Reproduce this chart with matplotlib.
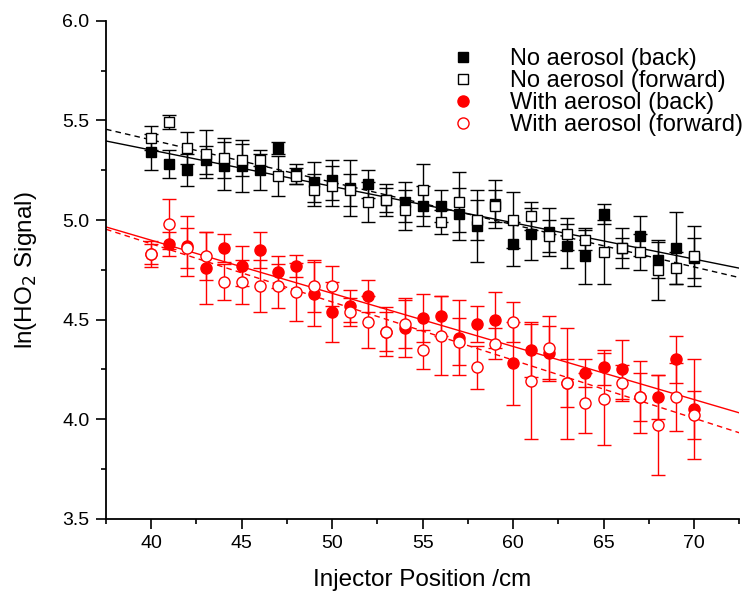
import numpy as np
import matplotlib
matplotlib.use("Agg")
import matplotlib.pyplot as plt
from matplotlib.ticker import MultipleLocator

plt.rcParams['font.family'] = ['Liberation Sans', 'DejaVu Sans']

position = np.arange(40, 71)

# No aerosol, back
noaer_back = [5.34, 5.28, 5.25, 5.30, 5.27, 5.27, 5.25, 5.36, 5.23, 5.19, 5.20,
              5.16, 5.18, 5.10, 5.09, 5.07, 5.07, 5.03, 4.97, 5.08, 4.88,
              4.93, 4.94, 4.87, 4.82, 5.03, 4.86, 4.92, 4.80, 4.86, 4.81]
noaer_back_err = [0.09, 0.07, 0.08, 0.07, 0.12, 0.13, 0.10, 0.03, 0.05, 0.10, 0.10,
                  0.14, 0.07, 0.06, 0.10, 0.10, 0.08, 0.13, 0.18, 0.12, 0.11,
                  0.13, 0.12, 0.11, 0.14, 0.05, 0.10, 0.10, 0.09, 0.18, 0.10]

# No aerosol, forward
noaer_fwd = [5.41, 5.49, 5.36, 5.33, 5.31, 5.30, 5.30, 5.22, 5.22, 5.15, 5.17,
             5.15, 5.09, 5.10, 5.05, 5.15, 4.99, 5.09, 5.00, 5.07, 5.00,
             5.02, 4.92, 4.93, 4.90, 4.84, 4.86, 4.84, 4.75, 4.76, 4.82]
noaer_fwd_err = [0.06, 0.035, 0.08, 0.12, 0.10, 0.08, 0.03, 0.10, 0.04, 0.08, 0.10,
                 0.08, 0.10, 0.08, 0.10, 0.13, 0.06, 0.15, 0.10, 0.08, 0.14,
                 0.07, 0.08, 0.08, 0.05, 0.16, 0.05, 0.09, 0.15, 0.08, 0.15]

# With aerosol, back
aer_back = [4.83, 4.88, 4.87, 4.76, 4.86, 4.77, 4.85, 4.74, 4.77, 4.63, 4.54,
            4.57, 4.62, 4.44, 4.46, 4.51, 4.52, 4.41, 4.48, 4.50, 4.28,
            4.35, 4.33, 4.18, 4.23, 4.26, 4.25, 4.11, 4.11, 4.30, 4.05]
aer_back_err = [0.065, 0.06, 0.15, 0.18, 0.07, 0.10, 0.09, 0.08, 0.055, 0.16, 0.15,
                0.08, 0.08, 0.125, 0.15, 0.12, 0.10, 0.19, 0.09, 0.14, 0.21,
                0.14, 0.14, 0.28, 0.07, 0.09, 0.15, 0.18, 0.11, 0.12, 0.25]

# With aerosol, forward
aer_fwd = [4.83, 4.98, 4.86, 4.82, 4.69, 4.69, 4.67, 4.67, 4.64, 4.67, 4.67,
           4.54, 4.49, 4.44, 4.48, 4.35, 4.42, 4.39, 4.26, 4.38, 4.49,
           4.19, 4.36, 4.18, 4.08, 4.10, 4.18, 4.11, 3.97, 4.11, 4.02]
aer_fwd_err = [0.05, 0.125, 0.10, 0.12, 0.09, 0.11, 0.13, 0.11, 0.145, 0.13, 0.10,
               0.07, 0.13, 0.10, 0.12, 0.10, 0.20, 0.12, 0.11, 0.08, 0.10,
               0.29, 0.16, 0.12, 0.15, 0.23, 0.09, 0.12, 0.25, 0.17, 0.12]

fig = plt.figure(figsize=(7.52, 5.97), dpi=100)
ax = fig.add_axes([0.141, 0.131, 0.842, 0.834])

xlim = (37.5, 72.5)
xfit = np.array(xlim)

series = [
    (noaer_back, noaer_back_err, 's', 'black', 'black', '-', 'No aerosol (back)', 6.5),
    (noaer_fwd, noaer_fwd_err, 's', 'white', 'black', '--', 'No aerosol (forward)', 6.5),
    (aer_back, aer_back_err, 'o', 'red', 'red', '-', 'With aerosol (back)', 8),
    (aer_fwd, aer_fwd_err, 'o', 'white', 'red', '--', 'With aerosol (forward)', 8),
]

for y, err, marker, face, edge, ls, label, ms in series:
    ax.errorbar(position, y, yerr=err, fmt=marker, mfc=face, mec=edge, ms=ms,
                mew=1.0, ecolor=edge, elinewidth=1.0, capsize=5, capthick=1.0,
                label=label, zorder=3)
    # linear fit drawn across the whole x range
    slope, icept = np.polyfit(position, y, 1)
    ax.plot(xfit, slope * xfit + icept, color=edge, ls=ls, lw=1.0,
            dashes=(4, 3) if ls == '--' else (None, None), zorder=2)

ax.set_xlim(*xlim)
ax.set_ylim(3.5, 6.0)
ax.xaxis.set_major_locator(MultipleLocator(5))
ax.xaxis.set_minor_locator(MultipleLocator(2.5))
ax.yaxis.set_major_locator(MultipleLocator(0.5))
ax.yaxis.set_minor_locator(MultipleLocator(0.25))
ax.yaxis.set_major_formatter(matplotlib.ticker.FormatStrFormatter('%.1f'))
ax.tick_params(which='major', direction='out', length=7, width=1.2, labelsize=14, pad=5)
ax.tick_params(which='minor', direction='out', length=3.5, width=1.2)
for s in ['top', 'right']:
    ax.spines[s].set_visible(False)
for s in ['left', 'bottom']:
    ax.spines[s].set_linewidth(1.3)

ax.set_xlabel('Injector Position /cm', fontsize=17.5, labelpad=12)
ax.set_ylabel('ln(HO$_2$ Signal)', fontsize=17.5, labelpad=17)

handles, labels = ax.get_legend_handles_labels()
handles = [h[0] for h in handles]
ax.legend(handles, labels, loc='upper left', bbox_to_anchor=(0.53, 0.965),
          frameon=False, fontsize=17, handlelength=1.0, handletextpad=1.5,
          labelspacing=0.0, borderaxespad=0)

fig.savefig('out.png', dpi=100)
